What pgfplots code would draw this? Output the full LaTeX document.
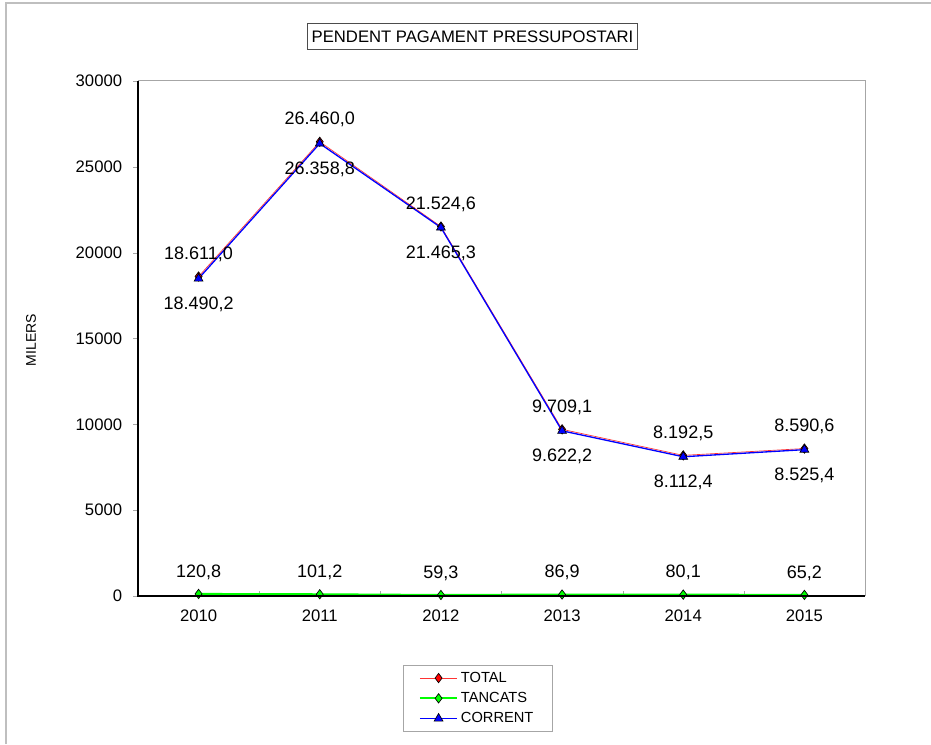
\documentclass[border=0pt]{standalone}
\usepackage{pgfplots}
\pgfplotsset{compat=1.18}
\usepackage{fontspec}
\setmainfont{Liberation Sans}
\begin{document}
\begin{tikzpicture}
\useasboundingbox (0,0) rectangle (698.25pt,558pt);
\draw[gray!50, line width=0.9pt] (4.5pt,0) -- (4.5pt,555.75pt) -- (698.25pt,555.75pt);
\node[draw=black!70, line width=0.6pt, inner xsep=3pt, minimum height=20pt, font=\fontsize{12.5}{14}\selectfont] at (354.4pt,530.6pt) {PENDENT PAGAMENT PRESSUPOSTARI};
\node[rotate=90, font=\fontsize{10.5}{12}\selectfont] at (23.25pt,303pt) {MILERS};
\begin{axis}[
  at={(103.5pt,111pt)}, anchor=south west,
  scale only axis, width=545.25pt, height=386.25pt,
  xmin=-0.5, xmax=5.5, ymin=0, ymax=30000,
  clip=false,
  scaled y ticks=false,
  axis line style={draw=none},
  xtick={0,1,2,3,4,5},
  xticklabels={2010,2011,2012,2013,2014,2015},
  minor xtick={-0.5,0.5,1.5,2.5,3.5,4.5,5.5},
  every major x tick/.append style={draw=none},
  every minor x tick/.append style={gray!70},
  every major y tick/.append style={gray!70},
  major tick length=3.75pt, minor tick length=3.75pt,
  xtick align=inside, ytick align=outside,
  xtick pos=bottom, ytick pos=left,
  ytick={0,5000,10000,15000,20000,25000,30000},
  tick label style={font=\fontsize{12.5}{14}\selectfont},
  xticklabel style={anchor=north, inner sep=0pt, yshift=-10.5pt},
  yticklabel style={anchor=east, inner sep=0pt, xshift=-8pt, /pgf/number format/1000 sep={}, /pgf/number format/assume math mode=true},
  nodes near coords={\pgfmathprintnumber[fixed, fixed zerofill, precision=1, use comma, assume math mode=true]{\pgfplotspointmeta}},
  every node near coord/.append style={font=\fontsize{13.5}{15}\selectfont, black, anchor=center},
  legend entries={TOTAL,TANCATS,CORRENT},
  legend cell align=left,
  legend image code/.code={\draw[mark repeat=2, mark phase=2] plot coordinates {(0pt,0pt) (14pt,0pt) (28pt,0pt)};},
  legend style={at={(0.467,-0.134)}, anchor=north, draw=gray!70, font=\fontsize{11}{12.5}\selectfont, inner xsep=12pt, inner ysep=3pt, row sep=2pt},
]
\addplot[red!80, line width=0.5pt, mark=diamond*, mark size=3.5pt, mark options={fill=red, draw=black, line width=0.5pt, solid},
  every node near coord/.append style={yshift=16.5pt}]
  coordinates {(0,18611.0) (1,26460.0) (2,21524.6) (3,9709.1) (4,8192.5) (5,8590.6)};
\addplot[green, line width=1.5pt, mark=diamond*, mark size=3.5pt, mark options={fill=green, draw=black, line width=0.5pt, solid},
  every node near coord/.append style={yshift=16.5pt}]
  coordinates {(0,120.8) (1,101.2) (2,59.3) (3,86.9) (4,80.1) (5,65.2)};
\addplot[blue, line width=1pt, mark=triangle*, mark size=3.8pt, mark options={fill=blue, draw=black, line width=0.5pt, solid},
  every node near coord/.append style={yshift=-19.5pt}]
  coordinates {(0,18490.2) (1,26358.8) (2,21465.3) (3,9622.2) (4,8112.4) (5,8525.4)};
\end{axis}
\draw[gray!70, line width=0.75pt] (103.5pt,497.25pt) -- (648.75pt,497.25pt) -- (648.75pt,111pt);
\draw[black, line width=0.9pt] (103.5pt,497.25pt) -- (103.5pt,111pt) -- (648.75pt,111pt);
\end{tikzpicture}
\end{document}
